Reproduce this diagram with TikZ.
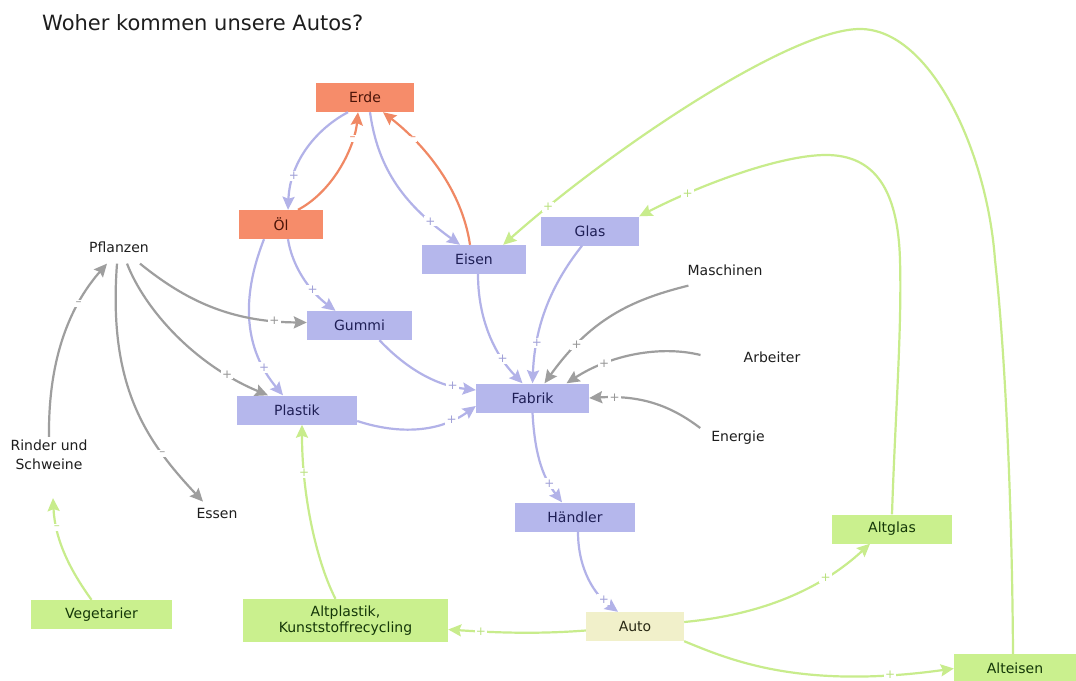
\documentclass[tikz,border=0pt]{standalone}
\usepackage{fontspec}
\setmainfont{DejaVu Sans}
\usetikzlibrary{arrows.meta}

% box fills
\definecolor{boxorange}{RGB}{246,140,106}
\definecolor{boxblue}{RGB}{181,183,236}
\definecolor{boxgreen}{RGB}{202,240,142}
\definecolor{boxcream}{RGB}{241,240,202}
% connector colours
\definecolor{lnblue}{RGB}{178,178,232}
\definecolor{lnorange}{RGB}{240,136,100}
\definecolor{lngray}{RGB}{158,158,158}
\definecolor{lngreen}{RGB}{200,236,140}
% sign colours
\definecolor{sgblue}{RGB}{160,160,215}
\definecolor{sgorange}{RGB}{236,130,96}
\definecolor{sggray}{RGB}{150,150,150}
\definecolor{sggreen}{RGB}{185,225,125}
% text colours
\definecolor{txtblue}{RGB}{30,30,85}
\definecolor{txtorange}{RGB}{75,20,8}
\definecolor{txtgreen}{RGB}{20,55,8}
\definecolor{txtcream}{RGB}{40,40,20}
\definecolor{txtdark}{RGB}{30,30,30}

\begin{document}
\begin{tikzpicture}[x=1pt,y=-1pt,
  box/.style={rectangle, inner sep=0pt, minimum height=29pt, align=center,
    font=\fontsize{14}{16.5}\selectfont},
  ob/.style={box, fill=boxorange, text=txtorange},
  bb/.style={box, fill=boxblue, text=txtblue},
  gb/.style={box, fill=boxgreen, text=txtgreen},
  cb/.style={box, fill=boxcream, text=txtcream},
  word/.style={inner sep=3pt, text=txtdark, align=center,
    font=\fontsize{14}{19}\selectfont},
  link/.style={line width=2.2pt, -{Stealth[length=13pt,width=12pt,inset=2pt]}},
  bl/.style={link, draw=lnblue},
  ol/.style={link, draw=lnorange},
  grl/.style={link, draw=lngray},
  gl/.style={link, draw=lngreen},
  sgn/.style={fill=white, inner sep=1.3pt, font=\fontsize{12}{12}\selectfont},
  sgb/.style={sgn, text=sgblue},
  sgo/.style={sgn, text=sgorange},
  sgr/.style={sgn, text=sggray},
  sgg/.style={sgn, text=sggreen}
]
\useasboundingbox (0,0) rectangle (1076,680);
\fill[white] (0,0) rectangle (1076,680);

% title
\node[anchor=west, inner sep=0pt, text=txtdark, font=\fontsize{21}{25}\selectfont]
  (title) at (42,23) {Woher kommen unsere Autos?};

% stocks and sources
\node[ob, minimum width=98pt]  (erde)    at (365,97.5)  {Erde};
\node[ob, minimum width=84pt]  (oel)     at (281,224.5) {Öl};
\node[bb, minimum width=104pt] (eisen)   at (474,259.5) {Eisen};
\node[bb, minimum width=98pt]  (glas)    at (590,231)   {Glas};
\node[bb, minimum width=105pt] (gummi)   at (359.5,325.5) {Gummi};
\node[bb, minimum width=120pt] (plastik) at (297,410)   {Plastik};
\node[bb, minimum width=113pt] (fabrik)  at (532.5,398) {Fabrik};
\node[bb, minimum width=120pt] (haendler) at (575,517)  {Händler};
\node[cb, minimum width=98pt]  (auto)    at (635,626.5) {Auto};
\node[gb, minimum width=205pt, minimum height=43pt] (altplastik) at (345.5,620.5)
  {Altplastik,\\Kunststoffrecycling};
\node[gb, minimum width=141pt] (vegetarier) at (101.5,614.5) {Vegetarier};
\node[gb, minimum width=120pt] (altglas) at (892,529)   {Altglas};
\node[gb, minimum width=122pt] (alteisen) at (1015,668.5) {Alteisen};

% free variables
\node[word] (pflanzen)  at (119,247) {Pflanzen};
\node[word] (rinder)    at (49,455)  {Rinder und\\Schweine};
\node[word] (essen)     at (217,513) {Essen};
\node[word] (maschinen) at (725,270) {Maschinen};
\node[word] (arbeiter)  at (772,357) {Arbeiter};
\node[word] (energie)   at (738,438) {Energie};

% Erde / Öl / Eisen
\draw[bl] ([xshift=-17pt]erde.south) .. controls (318,128) and (290,160) ..
  ([xshift=7pt]oel.north) node[sgb,pos=0.75]{+};
\draw[ol] ([xshift=17pt]oel.north) .. controls (335,190) and (355,145) ..
  ([xshift=-7pt]erde.south) node[sgo,pos=0.75]{–};
\draw[bl] ([xshift=5pt]erde.south) .. controls (378,170) and (405,205) ..
  ([xshift=-14pt]eisen.north) node[sgb,pos=0.8]{+};
\draw[ol] ([xshift=-4pt]eisen.north) .. controls (462,190) and (425,145) ..
  ([xshift=18pt]erde.south) node[sgo,pos=0.75]{–};

% Öl to Plastik and Gummi
\draw[bl] ([xshift=-17pt]oel.south) .. controls (240,300) and (245,350) ..
  ([xshift=-14pt]plastik.north) node[sgb,pos=0.8]{+};
\draw[bl] ([xshift=7pt]oel.south) .. controls (292,265) and (308,290) ..
  ([xshift=-24pt]gummi.north) node[sgb,pos=0.68]{+};

% Pflanzen
\draw[grl] ([xshift=21pt,yshift=-8pt]pflanzen.south) .. controls (185,300) and (230,322) ..
  ([yshift=3pt]gummi.west) node[sgr,pos=0.85]{+};
\draw[grl] ([xshift=8pt,yshift=-8pt]pflanzen.south) .. controls (145,310) and (195,365) ..
  ([xshift=-29pt]plastik.north) node[sgr,pos=0.8]{+};
\draw[grl] ([xshift=-2pt,yshift=-8pt]pflanzen.south) .. controls (108,385) and (145,440) ..
  ([xshift=-14pt,yshift=3pt]essen.north) node[sgr,pos=0.74]{–};
\draw[grl] (rinder.north) .. controls (48,350) and (75,300) ..
  ([xshift=-12pt,yshift=-8pt]pflanzen.south) node[sgr,pos=0.68]{–};
\draw[gl] ([xshift=-10pt]vegetarier.north) .. controls (70,570) and (55,540) ..
  ([xshift=4pt,yshift=-25pt]rinder.south) node[sgg,pos=0.75]{–};

% into Plastik from recycling
\draw[gl] ([xshift=-10pt]altplastik.north) .. controls (318,565) and (302,500) ..
  ([xshift=5pt]plastik.south) node[sgg,pos=0.78]{+};

% into Fabrik
\draw[bl] ([xshift=20pt]gummi.south) .. controls (400,362) and (430,385) ..
  ([yshift=8pt]fabrik.west) node[sgb,pos=0.82]{+};
\draw[bl] ([yshift=-11pt]plastik.east) .. controls (400,435) and (440,432) ..
  ([yshift=-8pt]fabrik.west) node[sgb,pos=0.78]{+};
\draw[bl] ([xshift=4pt]eisen.south) .. controls (478,320) and (495,355) ..
  ([xshift=-10pt]fabrik.north) node[sgb,pos=0.73]{+};
\draw[bl] ([xshift=-8pt]glas.south) .. controls (555,280) and (535,320) ..
  (fabrik.north) node[sgb,pos=0.77]{+};
\draw[grl] ([xshift=4pt,yshift=-7pt]maschinen.south west) .. controls (630,300) and (590,320) ..
  ([xshift=12pt]fabrik.north) node[sgr,pos=0.76]{+};
\draw[grl] ([xshift=-40pt,yshift=2pt]arbeiter.west) .. controls (660,345) and (610,355) ..
  ([xshift=34pt]fabrik.north) node[sgr,pos=0.72]{+};
\draw[grl] ([xshift=-8pt,yshift=10pt]energie.west) .. controls (670,405) and (640,395) ..
  (fabrik.east) node[sgr,pos=0.82]{+};

% Fabrik to Händler to Auto
\draw[bl] (fabrik.south) .. controls (535,460) and (545,480) ..
  ([xshift=-13pt]haendler.north) node[sgb,pos=0.72]{+};
\draw[bl] ([xshift=3pt]haendler.south) .. controls (578,570) and (595,595) ..
  ([xshift=-17pt]auto.north) node[sgb,pos=0.78]{+};

% Auto to the recycling stocks
\draw[gl] ([yshift=-4pt]auto.west) .. controls (540,634) and (500,633) ..
  ([yshift=-9pt]altplastik.east) node[sgg,pos=0.78]{+};
\draw[gl] ([yshift=4.5pt]auto.east) .. controls (760,615) and (820,590) ..
  ([xshift=-22pt]altglas.south) node[sgg,pos=0.72]{+};
\draw[gl] (auto.south east) .. controls (730,660) and (800,690) ..
  (alteisen.west) node[sgg,pos=0.85]{+};

% recycling loops back to Glas and Eisen
\draw[gl] (altglas.north) .. controls (895,420) and (902,330) .. (900,260)
  .. controls (898,190) and (875,155) .. (826,155)
  .. controls (780,155) and (700,185) .. (glas.north east) node[sgg,pos=0.75]{+};
\draw[gl] ([xshift=-2pt]alteisen.north) .. controls (1012,500) and (1005,350) .. (995,260)
  .. controls (987,150) and (930,29) .. (860,29)
  .. controls (790,29) and (610,150) .. ([xshift=-23pt]eisen.north east) node[sgg,pos=0.87]{+};
\end{tikzpicture}
\end{document}
